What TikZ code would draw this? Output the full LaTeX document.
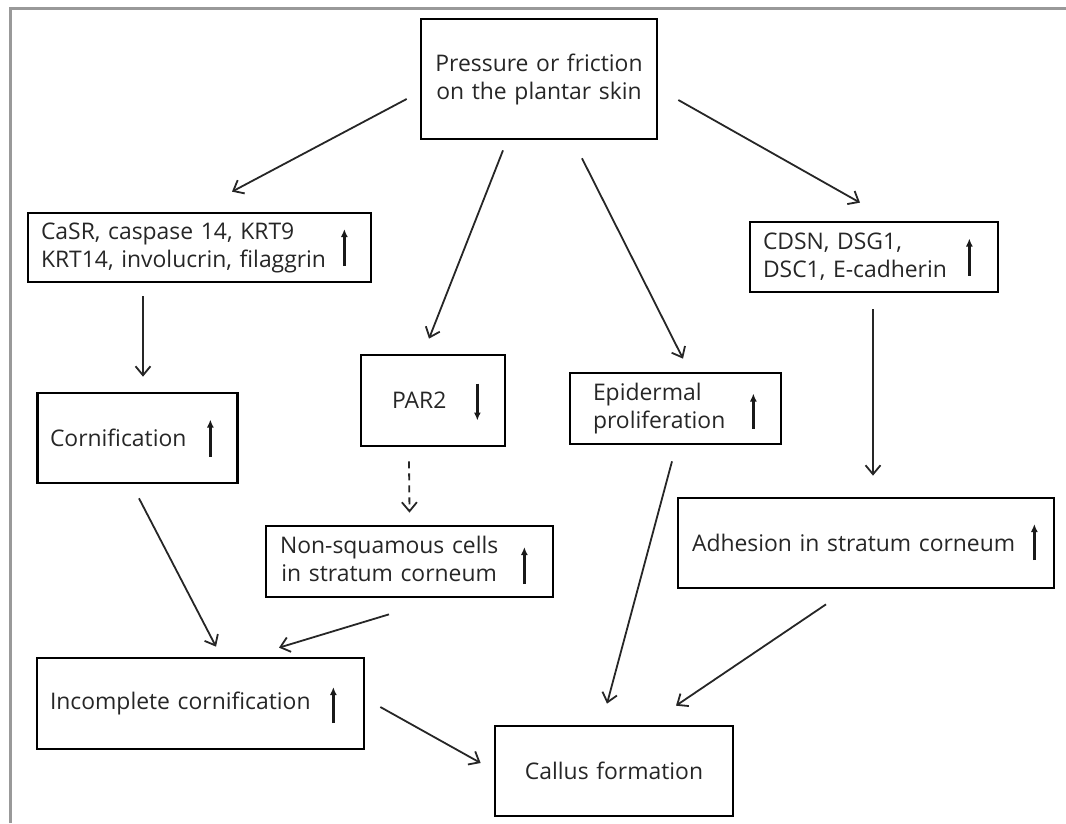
\documentclass[tikz,border=0pt]{standalone}
\usepackage{fontspec}
\newfontfamily\labelfont{Open Sans}
\usepackage{tikz}
\usetikzlibrary{arrows.meta, calc}

\begin{document}
\begin{tikzpicture}[
    x=1pt, y=-1pt,
    box/.style={rectangle, draw=black, line width=2.7pt, align=left, inner ysep=0pt,
                font={\labelfont\fontsize{22.9pt}{28pt}\selectfont}, text=black!85},
    arrow/.style={-{Straight Barb[length=9pt, width=15pt]}, line width=1.8pt, color=black!85},
    dasharrow/.style={arrow, dash pattern=on 7pt off 5pt},
    trend/.style={-{Latex[length=8pt, width=7pt]}, line width=2.8pt, color=black!90},
    frame/.style={line width=3pt, color=black!40}
]
\useasboundingbox (0,0) rectangle (1066,823);
\draw[frame] (10,823) |- (1066,8);

\node[box, text width=220pt, inner xsep=8pt, minimum height=120pt, align=center] (press) at (539,79)
    {Pressure or friction\\on the plantar skin};
\node[box, text width=317pt, inner xsep=13pt, minimum height=69pt] (casr) at (199.5,247.5)
    {CaSR, caspase 14, KRT9\\KRT14, involucrin, filaggrin};
\node[box, text width=222pt, inner xsep=13pt, minimum height=70pt] (cdsn) at (874,257)
    {CDSN, DSG1,\\DSC1, E-cadherin};
\node[box, text width=175pt, inner xsep=12.5pt, minimum height=90pt] (corn) at (137.5,438)
    {Cornification};
\node[box, text width=82pt, inner xsep=31pt, minimum height=91pt] (par2) at (433,400.5)
    {PAR2};
\node[box, text width=165pt, inner xsep=23pt, minimum height=71pt] (epi) at (675.5,408.5)
    {Epidermal\\proliferation};
\node[box, text width=259pt, inner xsep=14pt, minimum height=71pt] (nonsq) at (409.5,561.5)
    {\begin{tabular}{@{}c@{}}Non-squamous cells\\in stratum corneum\end{tabular}};
\node[box, text width=348pt, inner xsep=14pt, minimum height=90pt] (adh) at (866,543)
    {Adhesion in stratum corneum};
\node[box, text width=301pt, inner xsep=13pt, minimum height=91pt] (incomp) at (200.5,703.5)
    {Incomplete cornification};
\node[box, text width=198pt, inner xsep=20pt, minimum height=90pt, align=center] (callus) at (614,771)
    {Callus formation};

%% up / down marks inside the boxes
\draw[trend] ($(casr.east)+(-28,18.5)$) -- ++(0,-37);
\draw[trend] ($(cdsn.east)+(-30,18.5)$) -- ++(0,-37);
\draw[trend] ($(corn.east)+(-28.5,18.5)$) -- ++(0,-37);
\draw[trend] ($(par2.east)+(-29,-17)$) -- ++(0,37);
\draw[trend] ($(epi.east)+(-29,20)$) -- ++(0,-35);
\draw[trend] ($(nonsq.east)+(-30,22.5)$) -- ++(0,-37);
\draw[trend] ($(adh.east)+(-21,17)$) -- ++(0,-36);
\draw[trend] ($(incomp.east)+(-32,19.5)$) -- ++(0,-36);

%% from the top box
\draw[arrow] ($(press.west)+(-13,20)$) -- ($(casr.north)+(32.5,-20)$);
\draw[arrow] ($(press.south)+(-36,10)$) -- ($(par2.north)+(-4,-15)$);
\draw[arrow] ($(press.south)+(43,18)$) -- ($(epi.north)+(7.5,-13)$);
\draw[arrow] ($(press.east)+(20,21)$) -- ($(cdsn.north)+(-14,-18)$);
%% middle row
\draw[arrow] ($(casr.south)+(-56.5,13)$) -- ($(corn.north)+(5.5,-15)$);
\draw[arrow] ($(cdsn.south)+(-1,16)$) -- ($(adh.north)+(7,-21)$);
\draw[dasharrow] ($(par2.south)+(-24,14)$) -- ($(nonsq.north)+(0,-12)$);
%% towards incomplete cornification and callus
\draw[arrow] ($(corn.south)+(1.5,14)$) -- ($(incomp.north)+(15.5,-10)$);
\draw[arrow] ($(nonsq.south)+(-20.5,16)$) -- ($(incomp.north)+(78.5,-9)$);
\draw[arrow] ($(incomp.east)+(15,3.5)$) -- ($(callus.west)+(-13,-8)$);
\draw[arrow] ($(epi.south)+(-3.5,16)$) -- ($(callus.north)+(-7,-21)$);
\draw[arrow] ($(adh.south)+(-40,15)$) -- ($(callus.north)+(62,-19)$);
\end{tikzpicture}
\end{document}
